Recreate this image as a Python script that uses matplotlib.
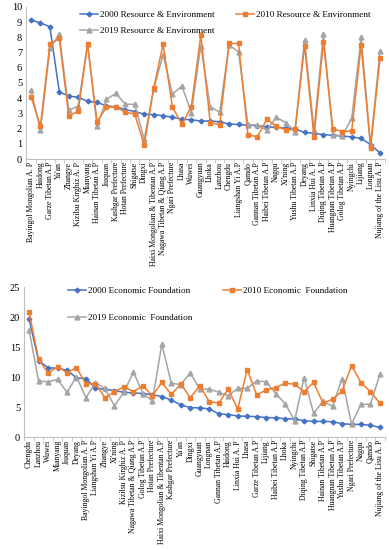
import numpy as np
from matplotlib import pyplot as plt

plt.rcParams['font.family'] = ['Liberation Serif', 'DejaVu Serif']

BLUE = '#4472C4'
ORANGE = '#ED7D31'
GRAY = '#A5A5A5'
AXIS = '#BFBFBF'

# ---- resource & environment (top) ----
res_names = ['Bayingol Mongolian A. P', 'Haidong', 'Garze Tibetan A.P', "Ya'an", 'Zhangye',
             'Kizilsu Kirghiz A. P', 'Mianyang', 'Hainan Tibetan A.P', 'Jiuquan',
             'Kashgar Prefecture', 'Hotan Prefecture', 'Shigatse', 'Dingxi',
             'Haixi Mongolian & Tibentan A.P', 'Nagawa Tibetan & Qiang A.P', 'Ngari Prefecture',
             'Lhasa', 'Wuwei', 'Guangyuan', 'Lhoka', 'Lanzhou', 'Chengdu', 'Liangshan Yi A.P',
             'Qamdo', 'Gannan Tibetan A.P', 'Haibei Tibetan A.P', 'Nagqu', "Xi'ning",
             'Yushu Tibetan A.P', 'Deyang', 'Linxia Hui A. P', 'Diqing Tibetan A.P',
             'Huangnan Tibetan A.P', 'Golog Tibetan A.P', 'Nyingchi', 'Lijiang', 'Longnan',
             'Nujiang of the Lisu A. P']
res_2000 = [9.15, 8.95, 8.7, 4.4, 4.15, 4.05, 3.8, 3.72, 3.5, 3.42, 3.25, 3.12, 2.95, 2.92,
            2.85, 2.75, 2.62, 2.58, 2.5, 2.5, 2.45, 2.3, 2.27, 2.22, 2.2, 2.12, 2.08, 2.03,
            1.98, 1.75, 1.7, 1.6, 1.56, 1.5, 1.46, 1.35, 0.95, 0.4]
res_2010 = [4.1, 2.17, 7.56, 7.93, 2.83, 3.15, 7.56, 2.45, 3.4, 3.44, 3.07, 2.96, 0.9, 4.65,
            7.55, 3.4, 2.3, 3.45, 8.15, 2.4, 2.25, 7.6, 7.6, 1.58, 1.47, 2.6, 2.17, 1.9,
            1.95, 7.45, 1.47, 7.7, 2.0, 1.8, 1.85, 7.5, 0.75, 6.62]
res_2019 = [4.54, 1.9, 7.28, 8.2, 3.22, 3.48, 7.56, 2.17, 3.92, 4.32, 3.6, 3.6, 1.3, 4.6,
            6.85, 4.28, 4.8, 3.05, 7.45, 3.45, 3.07, 7.5, 7.05, 2.24, 2.24, 1.9, 2.74, 2.4,
            1.8, 7.85, 1.9, 8.2, 1.6, 1.52, 2.68, 8.0, 0.92, 7.1]

# ---- economic foundation (bottom) ----
eco_names = ['Chengdu', 'Lanzhou', 'Wuwei', 'Mianyang', 'Jiuquan', 'Deyang',
             'Bayingol Mongolian A. P', 'Liangshan Yi A.P', 'Zhangye', "Xi'ning",
             'Kizilsu Kirghiz A. P', 'Nagawa Tibetan & Qiang A.P', 'Golog Tibetan A.P',
             'Hotan Prefecture', 'Haixi Mongolian & Tibentan A.P', 'Kashgar Prefecture',
             "Ya'an", 'Dingxi', 'Guangyuan', 'Longnan', 'Gannan Tibetan A.P', 'Haidong',
             'Linxia Hui A. P', 'Lhasa', 'Garze Tibetan A.P', 'Lijiang', 'Haibei Tibetan A.P',
             'Lhoka', 'Nyingchi', 'Diqing Tibetan A.P', 'Shigatse', 'Hainan Tibetan A.P',
             'Huangnan Tibetan A.P', 'Yushu Tibetan A.P', 'Ngari Prefecture', 'Nagqu',
             'Qamdo', 'Nujiang of the Lisu A. P']
eco_2000 = [19.7, 12.8, 11.6, 11.5, 11.2, 9.9, 9.8, 8.2, 8.0, 7.8, 7.5, 7.4, 7.3, 7.1, 6.8,
            6.2, 5.4, 4.95, 4.9, 4.75, 3.9, 3.8, 3.55, 3.5, 3.45, 3.3, 3.25, 3.1, 3.05,
            2.77, 2.65, 2.65, 2.6, 2.27, 2.15, 2.15, 2.0, 1.65]
eco_2010 = [20.9, 13.0, 10.7, 11.75, 10.8, 11.6, 8.9, 8.95, 6.6, 7.6, 8.4, 7.6, 8.6, 6.9,
            9.15, 7.15, 8.9, 6.6, 8.6, 5.95, 5.7, 8.05, 4.7, 11.3, 7.05, 7.9, 8.3, 9.0,
            8.85, 7.6, 9.15, 5.7, 6.35, 7.7, 11.95, 9.1, 7.6, 5.7]
eco_2019 = [17.9, 9.4, 9.25, 9.65, 7.5, 10.1, 6.6, 9.1, 8.15, 5.27, 7.5, 10.9, 7.3, 6.05,
            15.55, 9.0, 8.8, 10.75, 8.0, 8.05, 7.5, 6.95, 8.15, 8.15, 9.4, 9.25, 7.3, 5.6,
            2.8, 9.95, 4.0, 6.0, 5.15, 9.8, 2.2, 5.5, 5.5, 10.55]


def draw_panel(ax, names, s2000, s2010, s2019, labels, yticks, leg_anchor, leg_space, col_space):
    x = np.arange(len(names))
    ax.plot(x, s2000, color=BLUE, marker='D', markersize=2.4, lw=1.1, label=labels[0])
    ax.plot(x, s2019, color=GRAY, marker='^', markersize=3.5, lw=1.1, label=labels[2])
    ax.plot(x, s2010, color=ORANGE, marker='s', markersize=3.2, lw=1.1, label=labels[1])
    ax.set_xlim(-0.5, len(names) - 0.5)
    ax.set_ylim(yticks[0], yticks[-1])
    ax.set_yticks(yticks)
    ax.set_xticks(x)
    ax.set_xticklabels(names, rotation=90, fontsize=5.6, va='top', ha='center')
    ax.set_xticks(np.arange(-0.5, len(names)), minor=True)
    ax.tick_params(axis='x', which='major', length=0, pad=2)
    ax.tick_params(axis='x', which='minor', length=3, color=AXIS, width=0.6)
    ax.tick_params(axis='y', length=0, labelsize=7.5, pad=3)
    for side in ['top', 'right']:
        ax.spines[side].set_visible(False)
    for side in ['left', 'bottom']:
        ax.spines[side].set_color(AXIS)
        ax.spines[side].set_linewidth(0.8)
    # legend columns: 2000 and 2019 on the left, 2010 on the right
    ax.legend(loc='upper left', bbox_to_anchor=leg_anchor, ncol=2, frameon=False,
              fontsize=6.6, borderpad=0, borderaxespad=0, handlelength=2.0,
              handletextpad=0.2, labelspacing=leg_space, columnspacing=col_space)


fig = plt.figure(figsize=(3.89, 5.5), dpi=100)
ax1 = fig.add_axes([0.0676, 0.7109, 0.9214, 0.2764])
ax2 = fig.add_axes([0.0625, 0.2049, 0.9265, 0.2727])

draw_panel(ax1, res_names, res_2000, res_2010, res_2019,
           ['2000 Resource & Environment', '2010 Resource & Environment',
            '2019 Resource & Environment'],
           np.arange(0, 11, 1), (0.15, 0.975), 0.85, 2.3)
draw_panel(ax2, eco_names, eco_2000, eco_2010, eco_2019,
           ['2000 Economic Foundation', '2010 Economic  Foundation',
            '2019 Economic  Foundation'],
           np.arange(0, 26, 5), (0.121, 1.005), 2.0, 3.3)

plt.savefig('out.png', dpi=100)
